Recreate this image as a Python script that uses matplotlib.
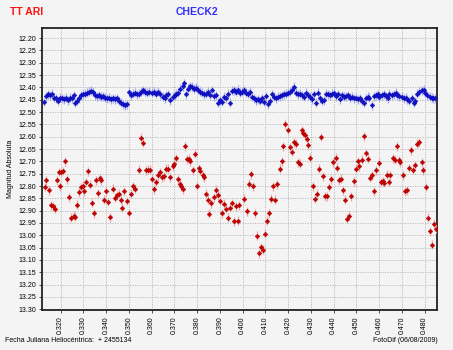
import matplotlib
matplotlib.use("Agg")
import matplotlib.pyplot as plt
import numpy as np

plt.rcParams['font.family'] = ['Liberation Sans', 'DejaVu Sans']

# TT Ari (variable) - HJD offset from 2455134
tt_time = [
    0.3130, 0.3137, 0.3147, 0.3159, 0.3166, 0.3174, 0.3184, 0.3191, 0.3198, 0.3203,
    0.3209, 0.3220, 0.3228, 0.3238, 0.3247, 0.3257, 0.3264, 0.3273, 0.3282, 0.3290,
    0.3297, 0.3302, 0.3310, 0.3320, 0.3329, 0.3337, 0.3345, 0.3355, 0.3364, 0.3371,
    0.3378, 0.3391, 0.3400, 0.3409, 0.3418, 0.3430, 0.3437, 0.3446, 0.3455, 0.3464,
    0.3472, 0.3479, 0.3491, 0.3501, 0.3510, 0.3519, 0.3526, 0.3545, 0.3554, 0.3563,
    0.3575, 0.3585, 0.3592, 0.3600, 0.3610, 0.3619, 0.3629, 0.3636, 0.3644, 0.3654,
    0.3662, 0.3673, 0.3683, 0.3692, 0.3699, 0.3706, 0.3718, 0.3724, 0.3730, 0.3736,
    0.3745, 0.3755, 0.3763, 0.3771, 0.3780, 0.3790, 0.3800, 0.3807, 0.3815, 0.3824,
    0.3829, 0.3837, 0.3846, 0.3853, 0.3863, 0.3873, 0.3882, 0.3890, 0.3900, 0.3908,
    0.3917, 0.3926, 0.3935, 0.3944, 0.3952, 0.3961, 0.3970, 0.3979, 0.3984, 0.4008,
    0.4018, 0.4028, 0.4036, 0.4044, 0.4054, 0.4062, 0.4072, 0.4080, 0.4088, 0.4098,
    0.4106, 0.4115, 0.4125, 0.4135, 0.4144, 0.4151, 0.4163, 0.4172, 0.4179, 0.4188,
    0.4199, 0.4208, 0.4216, 0.4226, 0.4235, 0.4245, 0.4252, 0.4260, 0.4267, 0.4274,
    0.4282, 0.4289, 0.4296, 0.4308, 0.4317, 0.4326, 0.4336, 0.4345, 0.4352, 0.4364,
    0.4373, 0.4380, 0.4390, 0.4399, 0.4409, 0.4416, 0.4425, 0.4434, 0.4441, 0.4451,
    0.4460, 0.4469, 0.4477, 0.4488, 0.4497, 0.4507, 0.4514, 0.4525, 0.4533, 0.4542,
    0.4551, 0.4561, 0.4568, 0.4577, 0.4587, 0.4598, 0.4608, 0.4617, 0.4624, 0.4634,
    0.4642, 0.4650, 0.4661, 0.4671, 0.4678, 0.4687, 0.4694, 0.4706, 0.4715, 0.4723,
    0.4732, 0.4741, 0.4750, 0.4759, 0.4767, 0.4778, 0.4787, 0.4795, 0.4805, 0.4814,
    0.4823, 0.4833, 0.4842, 0.4850,
]
tt_mag = [
    12.804, 12.777, 12.818, 12.879, 12.883, 12.892, 12.777, 12.743, 12.802, 12.743,
    12.739, 12.699, 12.773, 12.845, 12.929, 12.920, 12.924, 12.876, 12.825, 12.804,
    12.798, 12.821, 12.784, 12.741, 12.795, 12.868, 12.910, 12.777, 12.829, 12.768,
    12.777, 12.856, 12.821, 12.865, 12.926, 12.811, 12.848, 12.838, 12.831, 12.856,
    12.888, 12.822, 12.861, 12.910, 12.831, 12.802, 12.811, 12.734, 12.604, 12.624,
    12.737, 12.734, 12.734, 12.770, 12.814, 12.784, 12.757, 12.743, 12.764, 12.760,
    12.730, 12.730, 12.764, 12.720, 12.709, 12.687, 12.773, 12.791, 12.802, 12.814,
    12.639, 12.692, 12.689, 12.700, 12.737, 12.669, 12.800, 12.727, 12.739, 12.757,
    12.764, 12.831, 12.856, 12.913, 12.870, 12.845, 12.815, 12.838, 12.859, 12.910,
    12.872, 12.892, 12.929, 12.888, 12.870, 12.943, 12.883, 12.940, 12.879, 12.852,
    12.902, 12.791, 12.753, 12.802, 12.910, 13.001, 13.073, 13.048, 13.059, 12.994,
    12.940, 12.910, 12.852, 12.802, 12.856, 12.793, 12.730, 12.700, 12.639, 12.550,
    12.571, 12.642, 12.662, 12.623, 12.628, 12.703, 12.709, 12.574, 12.585, 12.594,
    12.608, 12.635, 12.685, 12.802, 12.852, 12.831, 12.730, 12.601, 12.760, 12.842,
    12.841, 12.804, 12.773, 12.703, 12.685, 12.726, 12.777, 12.770, 12.818, 12.856,
    12.933, 12.920, 12.842, 12.781, 12.730, 12.700, 12.720, 12.693, 12.598, 12.666,
    12.689, 12.766, 12.757, 12.822, 12.737, 12.705, 12.784, 12.781, 12.787, 12.754,
    12.784, 12.757, 12.687, 12.693, 12.639, 12.696, 12.704, 12.757, 12.821, 12.818,
    12.727, 12.655, 12.734, 12.716, 12.628, 12.622, 12.703, 12.737, 12.804, 12.929,
    12.983, 13.039, 12.953, 12.974,
]

# check star
chk_time = [
    0.3125, 0.3136, 0.3144, 0.3153, 0.3162, 0.3171, 0.3179, 0.3188, 0.3197, 0.3206,
    0.3215, 0.3223, 0.3232, 0.3241, 0.3250, 0.3257, 0.3264, 0.3273, 0.3282, 0.3291,
    0.3299, 0.3308, 0.3317, 0.3326, 0.3335, 0.3343, 0.3352, 0.3361, 0.3370, 0.3378,
    0.3387, 0.3396, 0.3405, 0.3414, 0.3422, 0.3431, 0.3440, 0.3449, 0.3458, 0.3466,
    0.3475, 0.3484, 0.3493, 0.3501, 0.3510, 0.3519, 0.3528, 0.3537, 0.3545, 0.3554,
    0.3560, 0.3570, 0.3581, 0.3589, 0.3600, 0.3610, 0.3619, 0.3629, 0.3639, 0.3648,
    0.3658, 0.3665, 0.3674, 0.3683, 0.3692, 0.3701, 0.3709, 0.3718, 0.3727, 0.3736,
    0.3742, 0.3750, 0.3759, 0.3768, 0.3777, 0.3786, 0.3794, 0.3803, 0.3812, 0.3821,
    0.3829, 0.3838, 0.3847, 0.3856, 0.3865, 0.3873, 0.3882, 0.3891, 0.3900, 0.3909,
    0.3917, 0.3926, 0.3935, 0.3944, 0.3952, 0.3961, 0.3970, 0.3979, 0.3987, 0.3996,
    0.4005, 0.4014, 0.4023, 0.4031, 0.4040, 0.4049, 0.4058, 0.4067, 0.4075, 0.4084,
    0.4093, 0.4102, 0.4111, 0.4119, 0.4128, 0.4137, 0.4146, 0.4154, 0.4163, 0.4172,
    0.4181, 0.4190, 0.4198, 0.4207, 0.4216, 0.4225, 0.4233, 0.4242, 0.4251, 0.4260,
    0.4269, 0.4277, 0.4286, 0.4295, 0.4304, 0.4313, 0.4321, 0.4330, 0.4339, 0.4348,
    0.4357, 0.4365, 0.4374, 0.4383, 0.4392, 0.4401, 0.4409, 0.4418, 0.4427, 0.4436,
    0.4444, 0.4453, 0.4462, 0.4471, 0.4479, 0.4488, 0.4497, 0.4506, 0.4515, 0.4523,
    0.4532, 0.4541, 0.4550, 0.4558, 0.4567, 0.4576, 0.4585, 0.4594, 0.4602, 0.4611,
    0.4620, 0.4629, 0.4638, 0.4646, 0.4655, 0.4664, 0.4673, 0.4681, 0.4690, 0.4699,
    0.4708, 0.4717, 0.4725, 0.4734, 0.4743, 0.4752, 0.4760, 0.4769, 0.4778, 0.4787,
    0.4796, 0.4804, 0.4813, 0.4822, 0.4831, 0.4839, 0.4848,
]
chk_mag = [
    12.459, 12.436, 12.428, 12.432, 12.425, 12.441, 12.445, 12.455, 12.441, 12.445,
    12.449, 12.441, 12.452, 12.441, 12.445, 12.432, 12.463, 12.455, 12.445, 12.432,
    12.428, 12.425, 12.422, 12.418, 12.414, 12.418, 12.432, 12.436, 12.432, 12.438,
    12.436, 12.441, 12.445, 12.441, 12.449, 12.445, 12.449, 12.445, 12.455, 12.463,
    12.468, 12.472, 12.468, 12.418, 12.432, 12.425, 12.422, 12.428, 12.425, 12.418,
    12.411, 12.418, 12.422, 12.418, 12.422, 12.418, 12.425, 12.418, 12.428, 12.438,
    12.445, 12.432, 12.428, 12.452, 12.438, 12.432, 12.425, 12.422, 12.405, 12.395,
    12.384, 12.428, 12.405, 12.395, 12.398, 12.405, 12.401, 12.409, 12.418, 12.422,
    12.428, 12.425, 12.418, 12.432, 12.411, 12.436, 12.432, 12.463, 12.452, 12.459,
    12.438, 12.445, 12.425, 12.463, 12.414, 12.411, 12.418, 12.409, 12.422, 12.418,
    12.411, 12.422, 12.425, 12.418, 12.438, 12.445, 12.452, 12.449, 12.455, 12.445,
    12.459, 12.436, 12.468, 12.455, 12.428, 12.438, 12.445, 12.438, 12.436, 12.432,
    12.428, 12.425, 12.422, 12.418, 12.409, 12.398, 12.422, 12.428, 12.425, 12.432,
    12.438, 12.422, 12.432, 12.438, 12.449, 12.428, 12.463, 12.422, 12.445, 12.455,
    12.452, 12.425, 12.428, 12.432, 12.425, 12.422, 12.436, 12.428, 12.449, 12.432,
    12.438, 12.436, 12.432, 12.441, 12.438, 12.445, 12.441, 12.449, 12.445, 12.455,
    12.463, 12.445, 12.438, 12.441, 12.472, 12.436, 12.432, 12.428, 12.438, 12.432,
    12.428, 12.436, 12.445, 12.425, 12.432, 12.428, 12.422, 12.432, 12.436, 12.438,
    12.445, 12.441, 12.449, 12.455, 12.445, 12.463, 12.455, 12.425, 12.418, 12.411,
    12.409, 12.422, 12.432, 12.438, 12.441, 12.445, 12.445,
]

mag_err = 0.018
time_err = 0.0004
x_ticks = np.arange(0.32, 0.4801, 0.01)
y_ticks = np.arange(12.20, 13.3001, 0.05)

bg = '#f3f4f3'
fig = plt.figure(figsize=(4.53, 3.5), dpi=100, facecolor=bg)
ax = fig.add_axes([0.0927, 0.1143, 0.872, 0.8057], facecolor=bg)

ax.errorbar(chk_time, chk_mag, yerr=mag_err, xerr=time_err, fmt='D', ms=2.4,
            color='#1414c8', ecolor='#a4acee', elinewidth=0.9, capsize=0,
            mec='#0000b4', mew=0.3, zorder=3)
ax.errorbar(tt_time, tt_mag, yerr=mag_err, xerr=time_err, fmt='D', ms=2.4,
            color='#c80000', ecolor='#f4a4a4', elinewidth=0.9, capsize=0,
            mec='#a00000', mew=0.3, zorder=3)

ax.set_xlim(0.3118, 0.4855)
ax.set_ylim(13.303, 12.159)
ax.set_xticks(x_ticks)
ax.set_xticklabels([f"{v:.3f}" for v in x_ticks], rotation=90, fontsize=5)
ax.set_yticks(y_ticks)
ax.set_yticklabels([f"{v:.2f}" for v in y_ticks], fontsize=5)
ax.tick_params(length=2.5, width=0.6, color='#333333', pad=2)
ax.grid(True, color='#b4b4b4', linestyle=(0, (1.5, 1.5)), linewidth=0.6)
ax.set_axisbelow(True)
for s in ax.spines.values():
    s.set_linewidth(1.3)
    s.set_color('#222222')

ax.set_ylabel('Magnitud Absoluta', fontsize=5, labelpad=3)

fig.text(10 / 453, 1 - 12 / 350, 'TT ARI', color='#ff1010', fontsize=7.5,
         fontweight='bold', va='center', ha='left')
fig.text(197 / 453, 1 - 12 / 350, 'CHECK2', color='#3030ff', fontsize=7.5,
         fontweight='bold', va='center', ha='center')
fig.text(5 / 453, 1 - 341 / 350, 'Fecha Juliana Heliocéntrica:  + 2455134',
         fontsize=5, va='center', ha='left')
fig.text(438 / 453, 1 - 341 / 350, 'FotoDif (06/08/2009)', fontsize=5,
         va='center', ha='right')

fig.savefig('out.png', dpi=100, facecolor=bg)
